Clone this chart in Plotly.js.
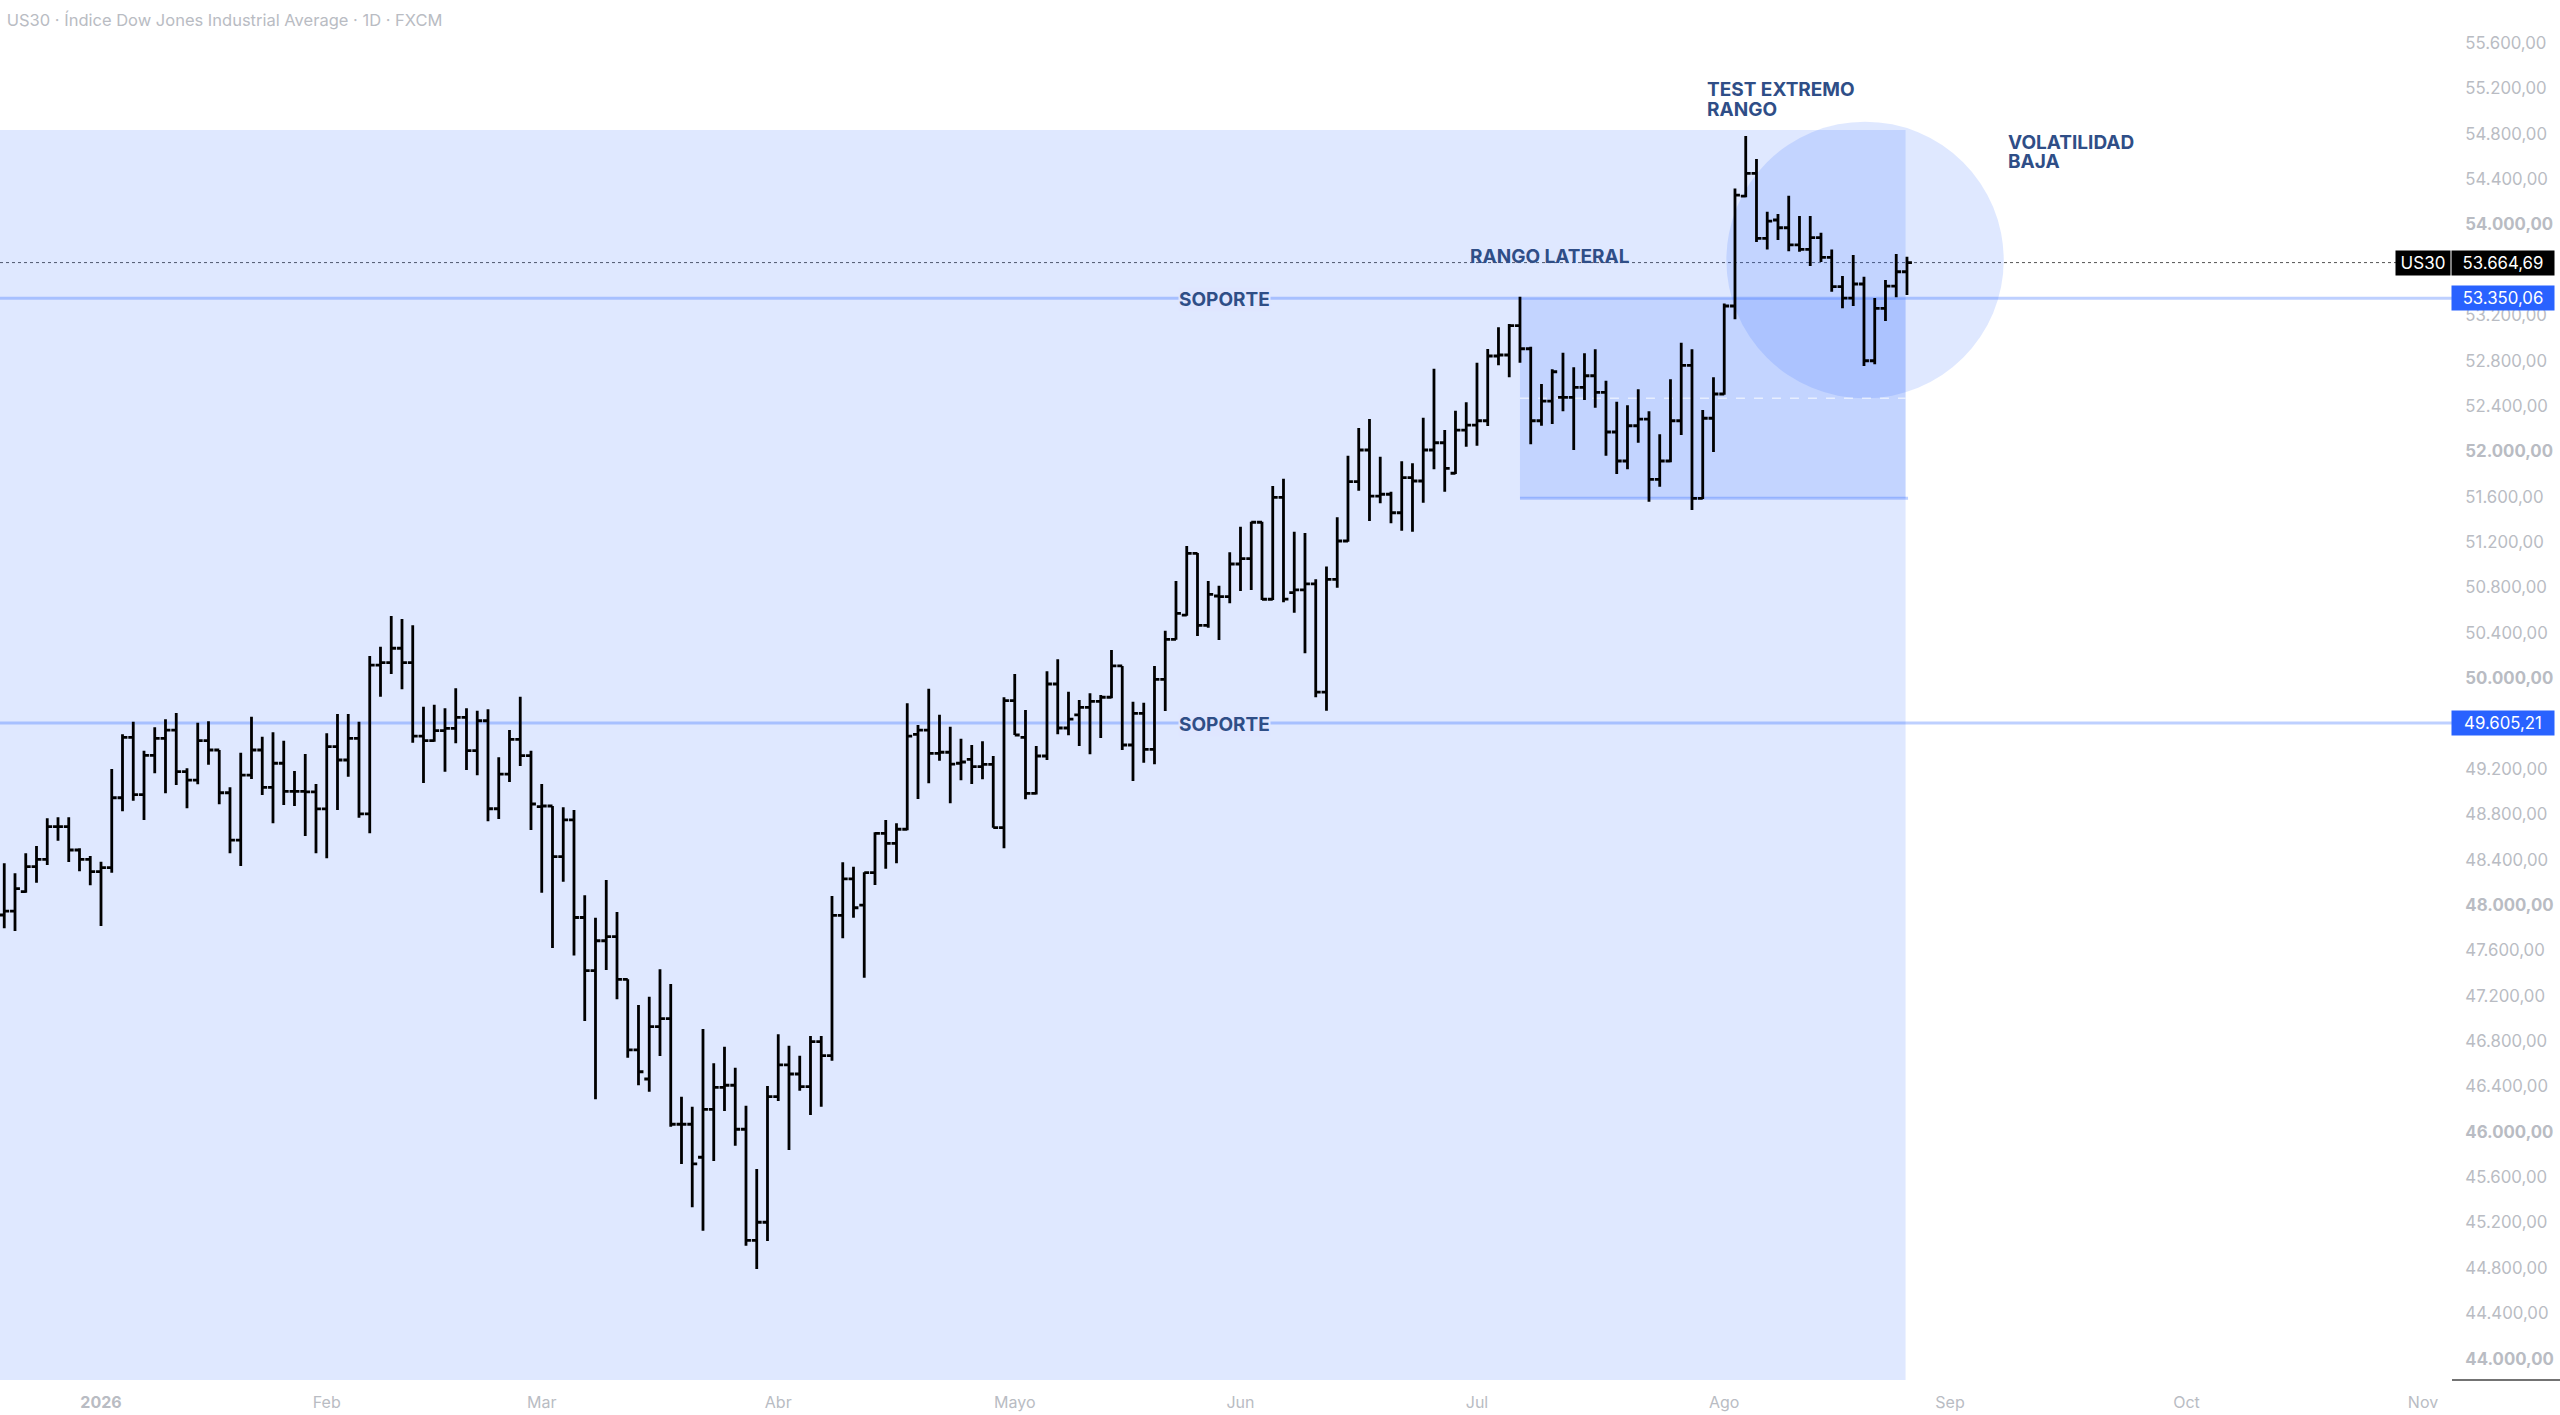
<!DOCTYPE html>
<html>
<head>
<meta charset="utf-8">
<script src="https://cdn.plot.ly/plotly-3.0.1.min.js"></script>
<style>
  html, body { margin: 0; padding: 0; background: #fff; }
</style>
</head>
<body>
<div id="chart" style="width:2560px;height:1415px;"></div>
<script>
// daily bars, one row = 10 sessions, first row ends on 2 Jan 2026
const opens = [
  47912,47947,48118,48338,48403,48691,48691,48485,48403,48294,
  48329,48946,49479,48973,49320,49470,49543,49176,49102,49449,
  49367,48990,48573,49146,49367,49038,49250,49003,49003,48997,
  48847,49396,49279,49470,48803,50116,50137,50264,50137,49490,
  49449,49537,49558,49655,49361,49625,48849,49155,49461,49317,
  48867,48873,48426,48750,47890,47421,47685,47721,47345,46722,
  46466,46927,46998,46067,46067,45776,46199,46393,46411,46023,
  45044,45203,46310,46590,46510,46398,46795,46672,47909,48230,
  48000,48285,48632,48544,48668,49505,49543,49338,49347,49250,
  49285,49220,49241,48682,49802,49479,48985,49314,49949,49561,
  49676,49743,49796,49832,50108,49411,49690,49373,49990,50343,
  50557,51101,50466,50725,50719,51007,51054,51375,50696,51595,
  50754,50778,50831,49878,50872,51210,51733,52012,51606,51622,
  51459,51768,51739,52012,52076,51807,52188,52232,52270,52841,
  52850,53108,52905,52270,52444,52477,52477,52565,52667,52521,
  52171,51915,52226,52285,51754,51915,52270,52759,51586,52292,
  52506,53282,54251,54452,53879,54040,53972,53820,53781,53884,
  53711,53452,53352,53476,52799,53261,53458,53584
];
const highs = [
  48368,48280,48456,48520,48765,48773,48773,48500,48432,48382,
  49199,49505,49616,49361,49567,49638,49693,49206,49608,49620,
  49367,49038,49343,49660,49484,49523,49449,49182,49332,49067,
  49514,49684,49684,49616,50196,50278,50548,50522,50466,49749,
  49766,49735,49911,49735,49713,49726,49303,49543,49837,49361,
  49067,48873,48862,48838,48086,47888,48221,47939,47345,47119,
  47192,47433,47304,46310,46222,46907,46605,46751,46566,46231,
  45673,46404,46860,46760,46672,46845,46845,48080,48377,48338,
  48289,48641,48750,48721,49779,49587,49907,49678,49572,49467,
  49411,49444,49314,49832,50037,49720,49402,50061,50167,49881,
  49808,49867,49852,50249,50108,49793,49784,50108,50419,50857,
  51166,51105,50857,50816,51110,51336,51380,51380,51695,51759,
  51292,51280,50872,50986,51419,51962,52206,52285,51953,51644,
  51912,51895,52297,52729,52188,52358,52433,52782,52903,53094,
  53123,53364,52923,52594,52724,52870,52741,52865,52900,52623,
  52438,52406,52547,52353,52150,52635,52958,52900,52365,52653,
  53305,54319,54781,54578,54113,54093,54254,54075,54075,53928,
  53781,53546,53731,53540,53352,53511,53740,53716
];
const lows = [
  47795,47771,48109,48197,48353,48567,48379,48297,48174,47815,
  48285,48826,48920,48750,49161,48985,49058,48853,49064,49237,
  48888,48456,48344,49111,48970,48721,48882,48873,48609,48456,
  48412,48838,49131,48770,48632,49837,50037,49902,49431,49076,
  49440,49176,49426,49191,49144,48738,48758,49085,49226,48662,
  48109,47621,48206,47555,46977,46287,47427,47169,46654,46411,
  46354,46669,46046,45717,45335,45129,45743,46184,45878,44996,
  44791,45038,46272,45840,46363,46149,46222,46627,47707,47888,
  47359,48177,48320,48368,48660,48935,49073,49273,48897,49100,
  49067,49109,48682,48500,49499,48932,48975,49279,49505,49497,
  49402,49329,49473,49823,49367,49094,49255,49241,49711,50340,
  50550,50372,50445,50337,50660,50769,50778,50689,50690,50669,
  50577,50220,49832,49713,50798,51204,51653,51386,51542,51366,
  51300,51292,51547,51842,51644,51800,52041,52050,52224,52759,
  52653,52782,52062,52226,52241,52353,52012,52453,52385,51962,
  51800,51842,52076,51556,51688,51905,52144,51483,51580,51994,
  52500,53164,54240,53846,53781,53864,53764,53760,53634,53670,
  53408,53261,53282,52753,52768,53149,53358,53379
];
const closes = [
  47947,48144,48338,48403,48691,48691,48485,48403,48294,48329,
  48946,49479,48973,49320,49470,49543,49176,49102,49449,49367,
  48990,48573,49146,49367,49038,49250,49003,49003,48997,48847,
  49396,49279,49470,48803,50116,50137,50264,50137,49490,49449,
  49537,49558,49655,49361,49625,48849,49155,49461,49317,48891,
  48873,48426,48750,47890,47421,47685,47721,47345,46722,46530,
  46927,46998,46067,46067,45717,46199,46393,46411,46023,45044,
  45203,46310,46590,46510,46398,46795,46672,47909,48230,47976,
  48285,48632,48544,48668,49490,49543,49338,49347,49243,49261,
  49220,49241,48682,49802,49499,48985,49314,49949,49561,49640,
  49743,49796,49832,50108,49411,49690,49373,49990,50343,50572,
  51101,50466,50740,50719,51007,51054,51375,50696,51595,50698,
  50778,50831,49878,50872,51210,51733,52012,51606,51622,51459,
  51768,51739,52012,52076,51851,52188,52232,52270,52841,52850,
  53108,52905,52270,52444,52702,52477,52565,52667,52521,52171,
  51915,52226,52285,51754,51915,52270,52759,51586,52292,52506,
  53282,54260,54452,53879,54031,53972,53820,53781,53884,53711,
  53452,53352,53476,52799,53261,53458,53584,53664.69
];

// session numbers of the month starts (0 = 2 Jan 2026)
const monthTicks = [0, 21, 41, 63, 85, 106, 128, 151, 172, 194, 216];
const monthLabels = ['<b>2026</b>', 'Feb', 'Mar', 'Abr', 'Mayo', 'Jun', 'Jul', 'Ago', 'Sep', 'Oct', 'Nov'];

// 49.600 and 53.600 sit under the price boxes in the reference, so they are left out
const priceTicks = [44000, 44400, 44800, 45200, 45600, 46000, 46400, 46800, 47200, 47600,
  48000, 48400, 48800, 49200, 50000, 50400, 50800, 51200, 51600,
  52000, 52400, 52800, 53200, 54000, 54400, 54800, 55200, 55600];

const lastPrice = 53664.69;
const supportHigh = 53350.06;
const supportLow = 49605.21;
const rangeLow = 51586;
const rangeMid = 52468;
const zoneTop = 54834;
const zoneBottom = 43812;

const PLOT_W = 2452, PLOT_H = 1380;
const BLUE = 'rgba(41,98,255,0.15)';
const LINE = 'rgba(41,98,255,0.3)';
const TEXT_BLUE = '#2f4e87';
const GREY = '#b9bcc3';
const FONT = 'Inter, sans-serif';

const fmt = v => v.toLocaleString('de-DE', {minimumFractionDigits: 2, maximumFractionDigits: 2});
const priceLabels = priceTicks.map(v => v % 2000 === 0 ? '<b>' + fmt(v) + '</b>' : fmt(v));

const barTrace = {
  type: 'ohlc',
  x: opens.map((_, i) => i - 9),
  open: opens,
  high: highs,
  low: lows,
  close: closes,
  tickwidth: 0.46,
  increasing: {line: {color: '#000', width: 2.8}},
  decreasing: {line: {color: '#000', width: 2.8}},
  hoverinfo: 'skip',
  showlegend: false
};

function hline(y, x0, x1, color, width, dash) {
  return {type: 'line', layer: 'below', xref: 'x', yref: 'y', x0: x0, x1: x1, y0: y, y1: y,
    line: {color: color, width: width, dash: dash || 'solid'}};
}

const shapes = [
  {type: 'rect', layer: 'below', xref: 'x', yref: 'y', x0: -10, x1: 167.87, y0: zoneBottom, y1: zoneTop,
    fillcolor: BLUE, line: {width: 0}},
  {type: 'rect', layer: 'below', xref: 'x', yref: 'y', x0: 132, x1: 167.87, y0: rangeLow, y1: supportHigh,
    fillcolor: BLUE, line: {width: 0}},
  {type: 'circle', layer: 'below', xref: 'x', yref: 'y', x0: 151.2, x1: 177, y0: 52468, y1: 54907,
    fillcolor: BLUE, line: {width: 0}},
  hline(supportHigh, -10, 219, LINE, 3),
  hline(supportLow, -10, 219, LINE, 3),
  hline(rangeLow, 132, 168.1, LINE, 3),
  hline(rangeMid, 132, 167.87, 'rgba(255,255,255,0.6)', 1.5, 'dash'),
  {type: 'line', layer: 'below', xref: 'paper', yref: 'y', x0: 0, x1: 2396 / PLOT_W, y0: lastPrice, y1: lastPrice,
    line: {color: '#555', width: 1, dash: 'dot'}},
  {type: 'line', xref: 'paper', yref: 'paper', x0: 1, x1: 2560 / PLOT_W, y0: 0, y1: 0,
    line: {color: '#444', width: 1.5}}
];

function note(text, px, py, anchor, bg) {
  const a = {text: text, xref: 'paper', yref: 'paper', x: px / PLOT_W, y: 1 - py / PLOT_H,
    xanchor: anchor, yanchor: 'middle', showarrow: false,
    font: {family: FONT, size: 19, color: TEXT_BLUE, weight: 700}};
  if (bg) { a.bgcolor = bg; a.borderpad = 0; }
  return a;
}

function priceBox(text, y, bg, px, w, size) {
  return {text: text, xref: 'paper', yref: 'y', x: px / PLOT_W, y: y, xanchor: 'center', yanchor: 'middle',
    showarrow: false, width: w, height: 24, bgcolor: bg, borderpad: 0,
    font: {family: FONT, size: size, color: '#fff'}};
}

const annotations = [
  note('SOPORTE', 1224, 299, 'center', '#dfe6ff'),
  note('SOPORTE', 1224, 724, 'center', '#dfe6ff'),
  note('RANGO LATERAL', 1468, 257, 'left'),
  note('TEST EXTREMO', 1705, 90, 'left'),
  note('RANGO', 1705, 109.5, 'left'),
  note('VOLATILIDAD', 2006, 142, 'left'),
  note('BAJA', 2006, 161, 'left'),
  priceBox('US30', lastPrice, '#000', 2423, 54, 17),
  priceBox(fmt(lastPrice), lastPrice, '#000', 2503, 102, 16.8),
  priceBox(fmt(supportHigh), supportHigh, '#2962ff', 2503, 102, 16.8),
  priceBox(fmt(supportLow), supportLow, '#2962ff', 2503, 102, 16.8)
];

const layout = {
  width: 2560,
  height: 1415,
  margin: {l: 0, r: 108, t: 0, b: 35, pad: 0},
  paper_bgcolor: '#fff',
  plot_bgcolor: '#fff',
  separators: ',.',
  showlegend: false,
  title: {
    text: 'US30 · Índice Dow Jones Industrial Average · 1D · FXCM',
    x: 7 / 2560, xanchor: 'left', xref: 'paper',
    y: 1 - 20 / 1415, yanchor: 'middle', yref: 'container',
    font: {family: FONT, size: 16.5, color: GREY}
  },
  xaxis: {
    type: 'linear',
    range: [-9.395, 218.7],
    tickvals: monthTicks,
    ticktext: monthLabels,
    tickfont: {family: FONT, size: 16, color: GREY},
    ticks: 'outside', ticklen: 8, tickcolor: 'rgba(0,0,0,0)',
    showgrid: false, zeroline: false, showline: false,
    rangeslider: {visible: false},
    fixedrange: true
  },
  yaxis: {
    type: 'linear',
    side: 'right',
    range: [zoneBottom, 55980],
    tickvals: priceTicks,
    ticktext: priceLabels,
    tickfont: {family: FONT, size: 16.8, color: GREY},
    ticks: 'outside', ticklen: 9, tickcolor: 'rgba(0,0,0,0)',
    showgrid: false, zeroline: false, showline: false,
    fixedrange: true
  },
  shapes: shapes,
  annotations: annotations
};

Plotly.newPlot('chart', [barTrace], layout, {displayModeBar: false, staticPlot: true});
</script>
</body>
</html>
